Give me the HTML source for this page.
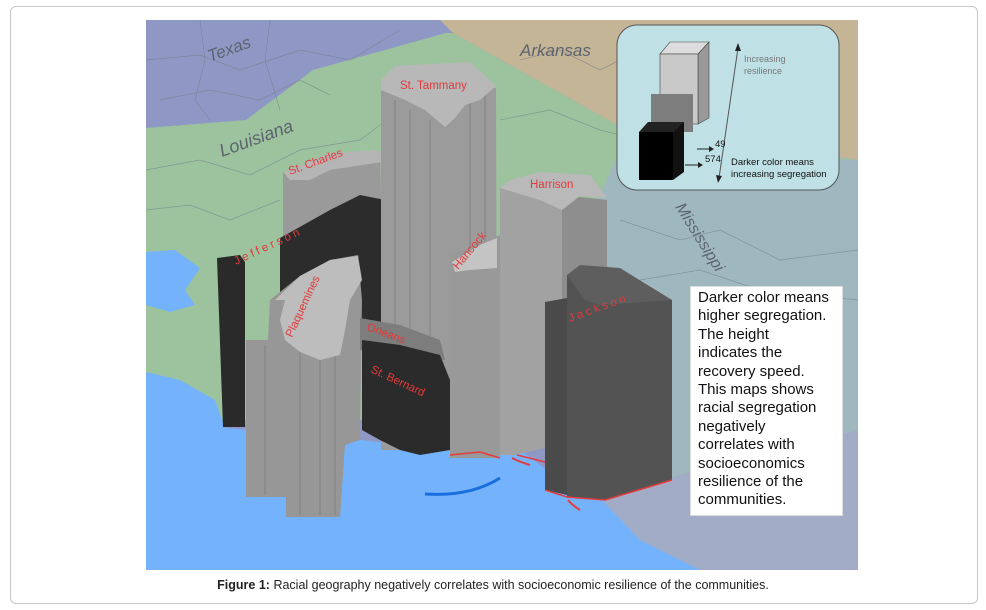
<!DOCTYPE html>
<html><head><meta charset="utf-8"><style>
html,body{margin:0;padding:0;background:#fff;}
body{width:986px;height:610px;position:relative;overflow:hidden;font-family:"Liberation Sans",sans-serif;}
.frame{position:absolute;left:10px;top:6px;width:966px;height:596px;border:1px solid #c8c8c8;border-radius:6px;}
.cap{position:absolute;left:0;width:986px;top:578px;text-align:center;font-size:12.5px;color:#222;}
.box{position:absolute;left:690px;top:286px;width:144px;height:226px;background:#fff;border:1px solid #ddd;padding:2px 0 0 7px;font-size:15px;line-height:18.4px;color:#111;}
.box div{width:134px;}
</style></head><body>
<div class="frame"></div>
<svg width="986" height="610" style="position:absolute;left:0;top:0">
<defs><clipPath id="c"><rect x="146" y="20" width="712" height="550"/></clipPath></defs>
<g clip-path="url(#c)">
<rect x="146" y="20" width="712" height="550" fill="#8f98c4"/>
<polygon points="440,20 858,20 858,160 626,130 453,33" fill="#c4b596"/>
<polygon points="146,128 246,120 313,70 446,33 453,33 626,130 858,160 858,200 620,170 540,320 500,420 146,420" fill="#9cc39e"/>
<polygon points="620,150 858,160 858,570 640,570 540,330" fill="#9fb8bf"/>
<polygon points="600,495 700,470 858,430 858,570 620,570" fill="#a3acc6"/>
<g stroke="#6f7a85" stroke-width="0.7" fill="none" opacity="0.6">
<path d="M146,60 L200,55 L240,70 L300,50 L350,60 L400,30"/>
<path d="M160,100 L210,90 L260,100 L300,80 L330,95"/>
<path d="M200,20 L205,60 L195,100 L210,120"/>
<path d="M270,20 L265,60 L280,110"/>
<path d="M146,170 L200,160 L250,175 L300,150 L360,140 L400,110"/>
<path d="M146,210 L190,205 L230,220 L280,200"/>
<path d="M520,60 L560,50 L600,70 L620,60"/>
<path d="M500,120 L550,110 L600,130 L640,140"/>
<path d="M620,220 L680,240 L720,230 L780,260 L858,250"/>
<path d="M640,280 L700,270 L760,290 L858,300"/>
</g>
<polygon points="146,252 175,250 200,268 185,290 195,305 170,312 146,305" fill="#74b3fb"/>
<polygon points="146,372 180,380 215,400 225,428 250,430 360,440 450,450 490,440 520,450 560,480 600,498 640,540 700,570 146,570" fill="#74b3fb"/>
<polygon points="217,258 240,255 245,262 245,427 223,427" fill="#2a2a2a"/>
<polygon points="283,172 330,155 380,150 382,240 283,240" fill="#9a9a9a"/>
<polygon points="283,172 330,153 380,150 382,162 330,170 310,180 290,180" fill="#b5b5b5"/>
<polygon points="280,238 330,210 360,195 385,200 392,210 392,350 280,350" fill="#2c2c2c"/>
<polygon points="381,82 496,88 497,450 381,450" fill="#9b9b9b"/>
<g stroke="#8a8a8a" stroke-width="1.5"><line x1="395" y1="100" x2="395" y2="440"/><line x1="410" y1="110" x2="410" y2="440"/><line x1="430" y1="120" x2="430" y2="440"/><line x1="470" y1="100" x2="470" y2="440"/><line x1="485" y1="95" x2="485" y2="440"/></g>
<polygon points="381,80 395,66 470,62 496,86 480,100 465,105 455,118 445,127 425,110 405,100 381,90" fill="#b8b8b8"/>
<polygon points="450,255 500,235 500,458 450,458" fill="#999"/>
<polygon points="452,262 480,245 497,238 497,268 470,270 455,272" fill="#c4c4c4"/>
<polygon points="500,188 562,195 562,452 545,448 515,455 500,455" fill="#a2a2a2"/>
<polygon points="562,195 607,200 607,455 562,452" fill="#8e8e8e"/>
<polygon points="500,188 510,180 540,172 590,175 607,198 580,196 562,210 540,200" fill="#b9b9b9"/>
<polygon points="545,302 567,298 567,495 545,490" fill="#4a4a4a"/>
<polygon points="567,275 672,300 672,480 605,500 567,497" fill="#535353"/>
<polygon points="567,275 580,265 620,268 672,300 600,305 585,300" fill="#5e5e5e"/>
<polyline points="545,490 567,497 605,500 672,480" fill="none" stroke="#e53b3b" stroke-width="1.5"/>
<polygon points="300,276 330,260 358,255 362,300 360,440 345,445 340,517 286,517 286,497 246,497 246,340 268,340 270,300" fill="#979797"/>
<g stroke="#888" stroke-width="1.4"><line x1="265" y1="345" x2="265" y2="495"/><line x1="300" y1="340" x2="300" y2="515"/><line x1="320" y1="320" x2="320" y2="515"/><line x1="335" y1="310" x2="335" y2="515"/></g>
<polygon points="300,276 330,260 358,256 362,280 350,300 345,330 340,355 320,360 300,352 285,340 280,320 285,300 275,300" fill="#bdbdbd"/>
<polygon points="360,318 400,325 440,340 445,360 360,350" fill="#7d7d7d"/>
<polygon points="362,340 400,345 440,355 450,380 450,450 420,455 400,450 380,440 362,430" fill="#2b2b2b"/>
<path d="M450,455 L480,452 L500,458 M517,455 L545,462" stroke="#e53b3b" stroke-width="1.5" fill="none"/>
<path d="M512,458 Q520,462 530,465" stroke="#e53b3b" stroke-width="2" fill="none"/>
<path d="M568,500 Q572,505 580,510" stroke="#e53b3b" stroke-width="2" fill="none"/>
<path d="M425,494 Q470,497 500,478" stroke="#1a6fe0" stroke-width="3" fill="none"/>
<g font-family="Liberation Sans,sans-serif" font-style="italic" fill="#5d6470" font-size="17">
<text x="210" y="62" transform="rotate(-20 210 62)">Texas</text>
<text x="520" y="56">Arkansas</text>
<text x="222" y="157" transform="rotate(-20 222 157)" font-size="18">Louisiana</text>
<text x="675" y="207" transform="rotate(58 675 207)" font-size="16">Mississippi</text>
</g>
<g font-family="Liberation Sans,sans-serif" fill="#e33a3a" font-size="11.5">
<text x="400" y="89">St. Tammany</text>
<text x="530" y="188">Harrison</text>
<text x="290" y="175" transform="rotate(-20 290 175)">St. Charles</text>
<text x="236" y="265" transform="rotate(-25 236 265)" letter-spacing="3">Jefferson</text>
<text x="458" y="270" transform="rotate(-50 458 270)">Hancock</text>
<text x="292" y="338" transform="rotate(-65 292 338)">Plaquemines</text>
<text x="366" y="330" transform="rotate(20 366 330)">Orleans</text>
<text x="370" y="372" transform="rotate(25 370 372)">St. Bernard</text>
<text x="570" y="322" transform="rotate(-20 570 322)" letter-spacing="3">Jackson</text>
</g>
<rect x="617" y="25" width="222" height="165" rx="20" fill="#bfe1e6" stroke="#555" stroke-width="1"/>
<polygon points="660,54 670,42 709,42 698,54" fill="#ddd" stroke="#444" stroke-width="0.6"/>
<polygon points="698,54 709,42 709,118 698,124" fill="#999" stroke="#444" stroke-width="0.6"/>
<rect x="660" y="54" width="38" height="70" fill="#c9c9c9" stroke="#444" stroke-width="0.6"/>
<polygon points="651,94 693,94 693,132 651,132" fill="#7d7d7d"/>
<polygon points="639,132 648,122 684,122 673,132" fill="#222"/>
<polygon points="673,132 684,122 684,172 673,180" fill="#111"/>
<rect x="639" y="132" width="34" height="48" fill="#000"/>
<line x1="738" y1="48" x2="719" y2="178" stroke="#555" stroke-width="1"/>
<polygon points="738,43 735,51 741,51" fill="#222"/>
<polygon points="718,183 716,175 722,176" fill="#222"/>
<line x1="697" y1="149" x2="711" y2="149" stroke="#222"/><polygon points="714,149 709,146 709,152" fill="#222"/>
<line x1="685" y1="165" x2="700" y2="165" stroke="#222"/><polygon points="703,165 698,162 698,168" fill="#222"/>
<g font-family="Liberation Sans,sans-serif">
<text x="744" y="62" font-size="9" fill="#777">Increasing</text>
<text x="744" y="74" font-size="9" fill="#777">resilience</text>
<text x="715" y="147" font-size="9.5" fill="#111">49</text>
<text x="705" y="162" font-size="9.5" fill="#111">574</text>
<text x="731" y="165" font-size="9.5" fill="#111">Darker color means</text>
<text x="731" y="177" font-size="9.5" fill="#111">increasing segregation</text>
</g>
</g>
</svg>
<div class="box"><div>Darker color means higher segregation.<br>The height<br>indicates the<br>recovery speed.<br>This maps shows racial segregation negatively<br>correlates with socioeconomics resilience of the communities.</div></div>
<div class="cap"><b>Figure 1:</b> Racial geography negatively correlates with socioeconomic resilience of the communities.</div>
</body></html>
